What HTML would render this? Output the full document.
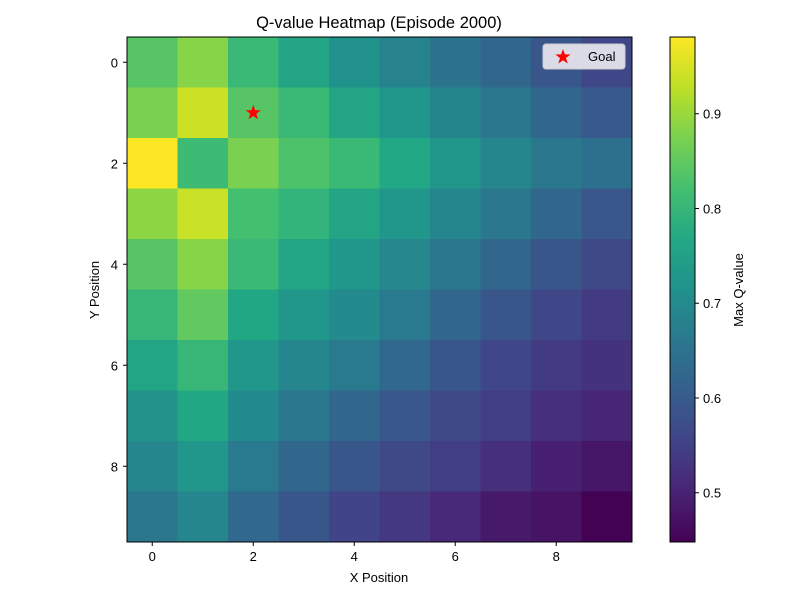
<!DOCTYPE html>
<html><head><meta charset="utf-8"><style>
body{margin:0;background:#fff;}
svg text{font-family:"Liberation Sans",sans-serif;fill:#000;}
</style></head><body>
<svg id="chart" width="800" height="600" xmlns="http://www.w3.org/2000/svg">
<rect width="800" height="600" fill="#fff"/>
<text x="379" y="28" font-size="16.5" text-anchor="middle">Q-value Heatmap (Episode 2000)</text>
<g id="cells"></g>
<rect x="127" y="37" width="505" height="505" fill="none" stroke="#000" stroke-width="1"/>
<g id="xticks"></g>
<g id="yticks"></g>
<text x="379" y="582" font-size="13" text-anchor="middle">X Position</text>
<text transform="translate(99,290) rotate(-90)" font-size="13" text-anchor="middle">Y Position</text>
<g id="goal"></g>
<g>
<rect x="543" y="44" width="82" height="25" rx="3" fill="#dadbe6" stroke="#ccc"/>
<polygon id="legstar" fill="#f00"/>
<text x="588" y="61" font-size="13">Goal</text>
</g>
<g id="cbar"></g>
<text transform="translate(743,290) rotate(-90)" font-size="13" text-anchor="middle">Max Q-value</text>
</svg>
<script>
const xCategories=[0,1,2,3,4,5,6,7,8,9];
const yCategories=[0,1,2,3,4,5,6,7,8,9];
const qRow0=[0.84,0.885,0.805,0.758,0.715,0.685,0.65,0.625,0.59,0.56];
const qRow1=[0.874,0.94,0.84,0.805,0.758,0.725,0.688,0.66,0.625,0.597];
const qRow2=[0.981,0.81,0.874,0.83,0.805,0.768,0.725,0.693,0.66,0.645];
const qRow3=[0.89,0.938,0.82,0.795,0.758,0.725,0.693,0.66,0.625,0.592];
const qRow4=[0.84,0.885,0.805,0.76,0.725,0.695,0.66,0.625,0.59,0.565];
const qRow5=[0.80,0.85,0.765,0.725,0.70,0.665,0.625,0.59,0.56,0.54];
const qRow6=[0.76,0.80,0.725,0.69,0.665,0.63,0.59,0.56,0.54,0.525];
const qRow7=[0.72,0.765,0.70,0.66,0.625,0.595,0.565,0.545,0.52,0.505];
const qRow8=[0.69,0.725,0.665,0.625,0.59,0.565,0.545,0.52,0.495,0.48];
const qRow9=[0.66,0.69,0.63,0.59,0.555,0.535,0.51,0.485,0.475,0.45];
const qValues=[qRow0,qRow1,qRow2,qRow3,qRow4,qRow5,qRow6,qRow7,qRow8,qRow9];
const xTickLabels=[0,2,4,6,8];
const yTickLabels=[0,2,4,6,8];
const cbarTickLabels=[0.5,0.6,0.7,0.8,0.9];
const goalPos=[2,1];
const vmin=0.448, vmax=0.981;

const NS="http://www.w3.org/2000/svg";
const X0=127,Y0=37,W=505,H=505;
const cw=W/xCategories.length, ch=H/yCategories.length;
const xs=i=>X0+cw*(i+0.5);
const ys=j=>Y0+ch*(j+0.5);
const vir=["#440154","#482475","#414487","#355f8d","#2a788e","#21918c","#22a884","#44bf70","#7ad151","#bddf26","#fde725"];
function hex(h){return [1,3,5].map(k=>parseInt(h.substr(k,2),16));}
function color(v){let t=Math.max(0,Math.min(1,(v-vmin)/(vmax-vmin)))*10;let i=Math.min(9,Math.floor(t));let f=t-i;let a=hex(vir[i]),b=hex(vir[i+1]);return "rgb("+a.map((c,k)=>Math.round(c+(b[k]-c)*f)).join(",")+")";}
function mk(tag,attrs,parent){const e=document.createElementNS(NS,tag);for(const k in attrs)e.setAttribute(k,attrs[k]);parent.appendChild(e);return e;}
const cells=document.getElementById('cells');
qValues.forEach((row,j)=>row.forEach((v,i)=>{
 const r=mk('rect',{x:X0+cw*i,y:Y0+ch*j,width:cw+0.5,height:ch+0.5,fill:color(v)},cells);
 
 
}));
const xt=document.getElementById('xticks');
xTickLabels.forEach(v=>{
 const l=mk('line',{x1:xs(v),x2:xs(v),y1:542,y2:546,stroke:'#000'},xt);
 
 
 const t=mk('text',{x:xs(v),y:561,'font-size':13,'text-anchor':'middle'},xt);t.textContent=v;
 
 
});
const yt=document.getElementById('yticks');
yTickLabels.forEach(v=>{
 const l=mk('line',{x1:123,x2:127,y1:ys(v),y2:ys(v),stroke:'#000'},yt);
 
 
 const t=mk('text',{x:118,y:ys(v)+5,'font-size':13,'text-anchor':'end'},yt);t.textContent=v;
 
 
});
function star(cx,cy,R){const p=[];for(let k=0;k<10;k++){const r=k%2?R*0.4:R;const a=-Math.PI/2+k*Math.PI/5;p.push((cx+r*Math.cos(a)).toFixed(1)+","+(cy+r*Math.sin(a)).toFixed(1));}return p.join(" ");}
const g=mk('polygon',{points:star(xs(goalPos[0]),ys(goalPos[1]),8),fill:'#f00'},document.getElementById('goal'));


document.getElementById('legstar').setAttribute('points',star(563,57,8));
const cb=document.getElementById('cbar');
const CX=670,CW=25,CY0=37,CH=505;
const cy=v=>CY0+CH*(vmax-v)/(vmax-vmin);
for(let k=0;k<CH;k++){const v=vmax-(k+0.5)/CH*(vmax-vmin);mk('rect',{x:CX,y:CY0+k,width:CW,height:1.2,fill:color(v)},cb);}
const fr=mk('rect',{x:CX,y:CY0,width:CW,height:CH,fill:'none',stroke:'#000'},cb);


cbarTickLabels.forEach(v=>{
 const l=mk('line',{x1:CX+CW,x2:CX+CW+4,y1:cy(v),y2:cy(v),stroke:'#000'},cb);
 
 
 const t=mk('text',{x:CX+CW+8,y:cy(v)+5,'font-size':13},cb);t.textContent=v.toFixed(1);
 
 
});
</script>
</body></html>
